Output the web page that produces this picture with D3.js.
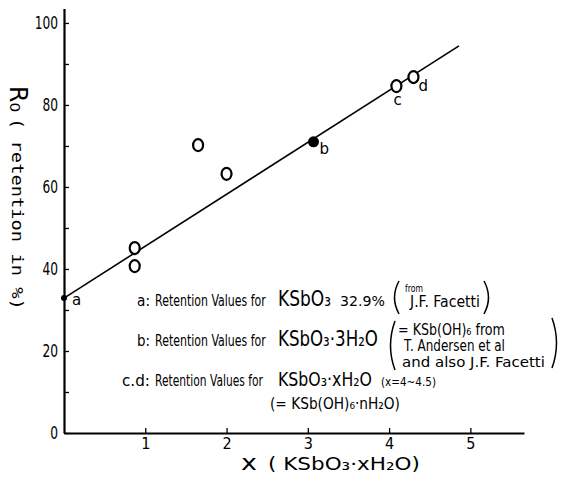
<!DOCTYPE html>
<html>
  <head>
    <meta charset="utf-8" />
    <script src="https://cdn.jsdelivr.net/npm/d3@7"></script>
    <style>
      body { margin: 0; background: #fff; }
      text { font-family: "DejaVu Sans", sans-serif; fill: #000; }
    </style>
  </head>
  <body>
    <div id="container"></div>
    <script>
      // measured points (x = moles of water, retention %)
      const openX = [0.87, 0.87, 1.65, 2.0, 4.09, 4.3];
      const openY = [45.1, 40.7, 70.2, 63.2, 84.6, 86.8];
      const filledX = [0, 3.07];
      const filledY = [32.9, 71.0];
      const pointNames = ["a", "b"];
      const openNames = ["", "", "", "", "c", "d"];
      // fitted straight line
      const lineX = [0, 4.86];
      const lineY = [32.9, 94.4];
      const xTicks = [1, 2, 3, 4, 5];
      const yTicks = [0, 10, 20, 30, 40, 50, 60, 70, 80, 90, 100];
      const yLabels = [0, 20, 40, 60, 80, 100];

      const W = 562, H = 477;
      const svg = d3.select("#container").append("svg").attr("width", W).attr("height", H);

      const x = d3.scaleLinear().domain([0, 5.66]).range([64, 524]);
      const y = d3.scaleLinear().domain([0, 103.5]).range([433, 8.6]);

      // axes
      const xAxis = d3.axisBottom(x).tickValues(xTicks).tickSize(-5).tickPadding(5)
        .tickSizeOuter(0).tickFormat(d3.format("d"));
      const gx = svg.append("g").attr("transform", `translate(0,${y(0)})`).call(xAxis);
      const yAxis = d3.axisLeft(y).tickValues(yTicks).tickSize(-5).tickPadding(6).tickSizeOuter(0)
        .tickFormat(d => yLabels.includes(d) ? d : "");
      const gy = svg.append("g").attr("transform", `translate(${x(0)},0)`).call(yAxis);
      [gx, gy].forEach(g => {
        g.select(".domain").attr("stroke-width", 2.2);
        g.selectAll(".tick line").attr("stroke-width", 1.3);
        g.selectAll(".tick text").style("font-size", "16px")
          .style("font-family", "'DejaVu Sans Condensed', 'DejaVu Sans', sans-serif");
      });
      gy.selectAll(".tick text").attr("transform", "scale(0.85,1.1)").attr("x", -7);

      // line
      svg.append("line")
        .attr("x1", x(lineX[0])).attr("y1", y(lineY[0]))
        .attr("x2", x(lineX[1])).attr("y2", y(lineY[1]))
        .attr("stroke", "#000").attr("stroke-width", 1.6);

      // open circles
      const open = openX.map((v, i) => ({ x: v, y: openY[i], n: openNames[i] }));
      svg.selectAll(".open").data(open).enter().append("ellipse")
        .attr("cx", d => x(d.x)).attr("cy", d => y(d.y))
        .attr("rx", 5).attr("ry", 6)
        .attr("fill", "#fff").attr("stroke", "#000").attr("stroke-width", 2.2);

      // filled dots
      const filled = filledX.map((v, i) => ({ x: v, y: filledY[i], n: pointNames[i] }));
      svg.selectAll(".filled").data(filled).enter().append("circle")
        .attr("cx", d => x(d.x)).attr("cy", d => y(d.y))
        .attr("r", (d, i) => i === 0 ? 3 : 5.5).attr("fill", "#000");

      // point letters
      const letterPos = { a: [8, 7], b: [6, 12], c: [-3, 19], d: [5, 14] };
      svg.selectAll(".lett").data(filled.concat(open.filter(d => d.n))).enter().append("text")
        .attr("x", d => x(d.x) + letterPos[d.n][0]).attr("y", d => y(d.y) + letterPos[d.n][1])
        .style("font-size", "15px")
        .text(d => d.n);

      // text piece squeezed horizontally to a width (rot = rotate for the y title)
      function piece(xp, yp, str, size, width, rot, family) {
        const t = svg.append("text").style("font-size", size + "px").text(str);
        if (family) t.style("font-family", family);
        const sx = width / t.node().getComputedTextLength();
        t.attr("transform", `translate(${xp},${yp})${rot ? " rotate(90)" : ""} scale(${sx},1)`);
        return t;
      }

      // annotation a
      piece(137, 306, "a:", 15, 13);
      piece(155, 306, "Retention Values for", 15, 111);
      piece(278, 306, "KSbO₃", 21, 53);
      piece(340, 306, "32.9%", 14, 45);
      piece(405, 292, "from", 10, 18);
      piece(410, 307, "J.F. Facetti", 15, 70);
      // annotation b
      piece(137, 346, "b:", 15, 13);
      piece(155, 346, "Retention Values for", 15, 111);
      piece(278, 346, "KSbO₃·3H₂O", 21, 100);
      piece(398, 335, "= KSb(OH)₆   from", 15, 107);
      piece(404, 351, "T. Andersen  et al", 15, 101);
      piece(402, 367, "and  also J.F. Facetti", 14, 143);
      // annotation c,d
      piece(122, 386, "c.d:", 15, 28);
      piece(155, 386, "Retention Values for", 15, 108);
      piece(278, 386, "KSbO₃·xH₂O", 20, 94);
      piece(381, 386, "(x=4~4.5)", 12, 55);
      piece(270, 409, "(= KSb(OH)₆·nH₂O)", 16, 130);

      // brackets
      const brk = (x0, y0, y1, dir) => svg.append("path")
        .attr("d", `M${x0},${y0} Q${x0 - 9 * dir},${(y0 + y1) / 2} ${x0},${y1}`)
        .attr("fill", "none").attr("stroke", "#000").attr("stroke-width", 1.5);
      brk(399, 281, 314, 1); brk(484, 281, 314, -1);
      brk(395, 321, 370, 1); brk(552, 318, 368, -1);

      // axis titles
      piece(241, 470, "x", 22, 16);
      piece(268, 470, "( KSbO₃·xH₂O)", 18, 152);
      piece(10, 86, "R₀", 24, 26, true);
      piece(12, 118, "( retention in %)", 15, 192, true, "'DejaVu Sans Mono', monospace");
    </script>
  </body>
</html>
